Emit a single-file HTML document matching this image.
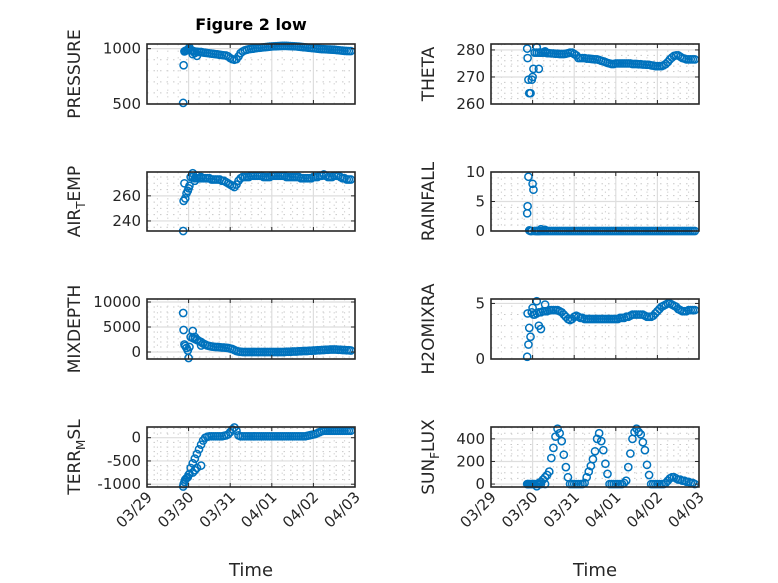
<!DOCTYPE html>
<html><head><meta charset="utf-8"><style>
body{margin:0;background:#fff;}
svg{display:block;font-family:"DejaVu Sans","Liberation Sans",sans-serif;}
</style></head><body>
<svg id="fig" width="778" height="583" xmlns="http://www.w3.org/2000/svg">
<rect width="778" height="583" fill="#fff"/>
<text x="251" y="30" text-anchor="middle" font-size="16" font-weight="bold" fill="#000">Figure 2 low</text>
</svg>
<script>
const earlyTimes=[0.87,0.88,0.90,0.92,0.95,0.98,1.0,1.02,1.1,1.15,1.2,1.3];
const mainStart=1.05, mainStep=0.05;
const xTickLabels=["03/29","03/30","03/31","04/01","04/02","04/03"];

const pressureEarly=[510,850,975,980,985,990,1000,1010,950,960,935,970];
const pressure=[985,980,975,972,970,968,965,963,960,958,
955,953,950,948,945,942,940,938,930,915,
905,900,905,930,960,975,985,990,995,998,
1000,1003,1006,1008,1010,1012,1014,1016,1018,1020,
1021,1022,1023,1024,1025,1025,1025,1024,1023,1022,
1021,1020,1018,1016,1014,1012,1010,1008,1006,1004,
1002,1000,998,996,995,994,993,992,991,990,
988,986,984,982,980,979,978,978];

const thetaEarly=[280.5,277,269,264,264,269,270,273,281,273,279,279.5];
const theta=[279,279,279,279,279,279,278.8,278.8,278.7,278.7,
278.6,278.6,278.5,278.5,278.5,278.6,278.8,279,279,278.5,
278,277,277,277,277,276.8,276.8,276.7,276.6,276.5,
276.5,276.3,276,275.8,275.5,275.2,275,274.8,274.8,275,
275,275,275,275,275,275,275,274.8,274.8,274.8,
274.7,274.7,274.6,274.6,274.5,274.5,274.3,274.2,274,274,
274,274,274.3,274.8,275.5,276.5,277.2,277.8,278,278,
277.5,277,276.8,276.5,276.5,276.5,276.5,276.5];

const airTempEarly=[232,256,270,258,262,264,266,268,278,272,276,275];
const airTemp=[275,275,274,274,274,274,274,274,274,274,
273,273,273,273,273,272,272,271,270,269,
268,267,269,272,274,275,275,275,275,276,
276,276,276,276,276,275,275,275,275,276,
276,276,276,276,276,276,275,275,275,275,
275,275,275,274,274,274,274,274,274,275,
275,275,276,276,277,276,275,275,275,276,
276,276,275,274,274,273,273,273];

const rainfallEarly=[3,4.2,9.2,0.1,0,0,8,7,0,0,0.3,0.2];
const rainfall=[0,0,0,0,0,0,0,0,0,0, 0,0,0,0,0,0,0,0,0,0,
0,0,0,0,0,0,0,0,0,0, 0,0,0,0,0,0,0,0,0,0,
0,0,0,0,0,0,0,0,0,0, 0,0,0,0,0,0,0,0,0,0,
0,0,0,0,0,0,0,0,0,0, 0,0,0,0,0,0,0,0];

const mixDepthEarly=[7800,4400,1500,1200,800,300,-1200,1000,4200,3000,2500,1300];
const mixDepth=[3000,2800,2600,2400,2200,2000,1700,1500,1300,1200,
1100,1050,1000,1000,950,900,900,850,800,700,
600,400,200,100,50,0,0,0,0,0,
0,0,0,0,0,0,0,0,0,0,
0,0,0,0,0,0,50,50,50,100,
100,100,150,150,200,200,200,250,250,300,
300,350,350,400,400,450,450,500,500,500,
500,450,450,400,400,350,350,300];

const h2oEarly=[0.2,4.1,1.3,2.8,2.0,4.2,4.6,4.0,5.2,3.0,2.7,4.9];
const h2o=[4.0,4.1,4.2,4.2,4.3,4.3,4.3,4.4,4.4,4.4,
4.4,4.4,4.3,4.2,4.0,3.8,3.6,3.5,3.6,3.8,
3.9,3.8,3.7,3.7,3.6,3.6,3.6,3.6,3.6,3.6,
3.6,3.6,3.6,3.6,3.6,3.6,3.6,3.6,3.6,3.6,
3.6,3.7,3.7,3.7,3.8,3.8,3.9,4.0,4.0,4.0,
4.0,4.0,4.0,3.9,3.8,3.8,3.8,3.9,4.1,4.3,
4.5,4.7,4.8,4.9,5.0,5.0,4.9,4.8,4.7,4.5,
4.4,4.3,4.3,4.3,4.4,4.4,4.4,4.4];

const terrEarly=[-1050,-1000,-950,-900,-870,-850,-800,-780,-750,-700,-650,-600];
const terrMSL=[-650,-550,-450,-350,-250,-150,-60,0,20,30,
30,30,30,30,30,30,40,50,70,120,
180,220,150,50,30,30,30,30,30,30,
30,30,30,30,30,30,30,30,30,30,
30,30,30,30,30,30,30,30,30,30,
30,30,30,30,30,30,40,50,60,70,
80,100,120,140,150,150,150,150,150,150,
150,150,150,150,150,150,150,150];

const sunEarly=[0,0,0,0,0,0,0,0,-20,0,0,0];
const sunFlux=[0,0,10,20,40,60,80,110,230,320,
420,490,450,380,260,150,60,0,0,0,
0,0,0,0,10,60,110,160,220,290,
400,450,380,300,180,90,0,0,0,0,
0,0,0,10,30,150,270,400,460,490,
460,440,370,300,170,80,0,0,0,0,
0,0,0,10,30,50,60,60,50,40,
40,30,30,20,20,10,10,0];

const panels=[
 {name:"pressure",label:["PRESSURE"],early:pressureEarly,data:pressure,col:0,row:0,ymin:500,ymax:1042,ticks:[500,1000],minor:100},
 {name:"theta",label:["THETA"],early:thetaEarly,data:theta,col:1,row:0,ymin:260,ymax:282.2,ticks:[260,270,280],minor:2},
 {name:"air-temp",label:["AIR","T","EMP"],early:airTempEarly,data:airTemp,col:0,row:1,ymin:232,ymax:279,ticks:[240,260],minor:5},
 {name:"rainfall",label:["RAINFALL"],early:rainfallEarly,data:rainfall,col:1,row:1,ymin:0,ymax:10,ticks:[0,5,10],minor:1},
 {name:"mix-depth",label:["MIXDEPTH"],early:mixDepthEarly,data:mixDepth,col:0,row:2,ymin:-1400,ymax:10600,ticks:[0,5000,10000],minor:1000},
 {name:"h2o-mix-ratio",label:["H2OMIXRA"],early:h2oEarly,data:h2o,col:1,row:2,ymin:0,ymax:5.4,ticks:[0,5],minor:1},
 {name:"terr-msl",label:["TERR","M","SL"],early:terrEarly,data:terrMSL,col:0,row:3,ymin:-1060,ymax:230,ticks:[-1000,-500,0],minor:100},
 {name:"sun-flux",label:["SUN","F","LUX"],early:sunEarly,data:sunFlux,col:1,row:3,ymin:-26,ymax:505,ticks:[0,200,400],minor:50}
];
const colX=[[147,355],[491,699]];
const rowY=[[44,104],[172,231],[299,359],[427,487]];
const labelX=[80,434];
const NS="http://www.w3.org/2000/svg";
const svg=document.getElementById('fig');
function mk(tag,attrs,parent){const e=document.createElementNS(NS,tag);for(const k in attrs)e.setAttribute(k,attrs[k]);(parent||svg).appendChild(e);return e;}
panels.forEach(p=>{
 const [x0,x1]=colX[p.col],[y0,y1]=rowY[p.row];
 const g=mk('g',{});
 
 
 const xs=t=>x0+(t/5)*(x1-x0);
 const ys=v=>y1-(v-p.ymin)/(p.ymax-p.ymin)*(y1-y0);
 for(let v=Math.ceil(p.ymin/p.minor)*p.minor;v<=p.ymax;v+=p.minor){
  if(p.ticks.includes(v))continue;
  mk('line',{x1:x0,x2:x1,y1:ys(v),y2:ys(v),stroke:'#c8c8c8','stroke-width':1,'stroke-dasharray':'1.5 5'},g);
 }
 for(let d=0.25;d<5;d+=0.25){ if(Math.abs(d-Math.round(d))<1e-6)continue;
  mk('line',{x1:xs(d),x2:xs(d),y1:y0,y2:y1,stroke:'#d4d4d4','stroke-width':1,'stroke-dasharray':'1.5 5'},g);}
 p.ticks.forEach(v=>mk('line',{x1:x0,x2:x1,y1:ys(v),y2:ys(v),stroke:'#dedede','stroke-width':1.2},g));
 for(let d=1;d<5;d++)mk('line',{x1:xs(d),x2:xs(d),y1:y0,y2:y1,stroke:'#dedede','stroke-width':1.2},g);
 const dg=mk('g',{},g);
 
 
 const pts=[];
 p.early.forEach((v,i)=>pts.push([earlyTimes[i],v]));
 p.data.forEach((v,i)=>pts.push([mainStart+i*mainStep,v]));
 pts.forEach(([t,v])=>{const c=mk('circle',{cx:xs(t),cy:ys(v),r:3.6,fill:'none',stroke:'#0072bd','stroke-width':1.5},dg);
  
  });
 mk('rect',{x:x0,y:y0,width:x1-x0,height:y1-y0,fill:'none',stroke:'#262626','stroke-width':1.6},g);
 p.ticks.forEach(v=>{mk('line',{x1:x0,x2:x0+4,y1:ys(v),y2:ys(v),stroke:'#262626'},g);mk('line',{x1:x1,x2:x1-4,y1:ys(v),y2:ys(v),stroke:'#262626'},g);
  const t=mk('text',{x:x0-6,y:ys(v)+5,'text-anchor':'end','font-size':15,fill:'#262626'},g);t.textContent=String(v);
  
  });
 for(let d=1;d<5;d++){mk('line',{x1:xs(d),x2:xs(d),y1:y1,y2:y1-4,stroke:'#262626'},g);mk('line',{x1:xs(d),x2:xs(d),y1:y0,y2:y0+4,stroke:'#262626'},g);}
 const cy=(y0+y1)/2, lx=labelX[p.col];
 const yl=mk('text',{x:0,y:0,'text-anchor':'middle','font-size':17,fill:'#262626',transform:`translate(${lx},${cy}) rotate(-90)`},g);
 
 
 if(p.label.length===1){yl.textContent=p.label[0];}
 else{const a=mk('tspan',{},yl);a.textContent=p.label[0];
  const b=mk('tspan',{'font-size':12,dy:5},yl);b.textContent=p.label[1];
  const c=mk('tspan',{dy:-5},yl);c.textContent=p.label[2];}
 if(p.row===3){
  xTickLabels.forEach((s,d)=>{const t=mk('text',{x:0,y:0,'text-anchor':'end','font-size':15,fill:'#262626',transform:`translate(${xs(d)+6},${y1+11}) rotate(-45)`},g);
   t.textContent=s;
   
   });
  const xt=mk('text',{x:(x0+x1)/2,y:576,'text-anchor':'middle','font-size':18,fill:'#262626'},g);
  xt.textContent='Time';
  
  
 }
});
</script>
</body></html>
